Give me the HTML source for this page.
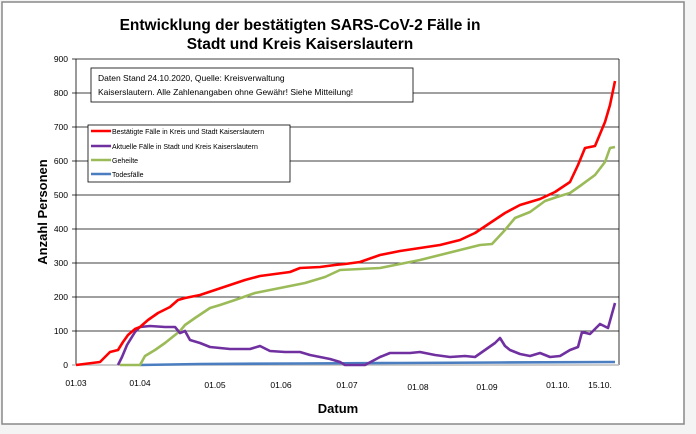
<!DOCTYPE html>
<html><head><meta charset="utf-8"><style>
body{margin:0;background:#f4f4f4;}
svg{display:block;font-family:"Liberation Sans",Arial,sans-serif;}
</style></head><body>
<svg width="696" height="434" viewBox="0 0 696 434">
<rect x="0" y="0" width="696" height="434" fill="#f4f4f4"/>
<rect x="2" y="2" width="682" height="422" fill="#fff" stroke="#888" stroke-width="1.5"/>
<text x="300" y="30" font-size="15.5" font-weight="bold" text-anchor="middle">Entwicklung der bestätigten SARS-CoV-2 Fälle in</text>
<text x="300" y="49" font-size="15.5" font-weight="bold" text-anchor="middle">Stadt und Kreis Kaiserslautern</text>
<g stroke="#000" stroke-width="0.8">
<line x1="72" y1="59" x2="619" y2="59"/><line x1="72" y1="93" x2="619" y2="93"/>
<line x1="72" y1="127" x2="619" y2="127"/><line x1="72" y1="161" x2="619" y2="161"/>
<line x1="72" y1="195" x2="619" y2="195"/><line x1="72" y1="229" x2="619" y2="229"/>
<line x1="72" y1="263" x2="619" y2="263"/><line x1="72" y1="297" x2="619" y2="297"/>
<line x1="72" y1="331" x2="619" y2="331"/>
<line x1="76" y1="59" x2="76" y2="365"/>
<line x1="619" y1="59" x2="619" y2="365"/>
</g>
<line x1="72" y1="365" x2="619" y2="365" stroke="#bbb" stroke-width="1.5"/>
<g font-size="8.5" text-anchor="end">
<text x="68" y="62">900</text><text x="68" y="96">800</text><text x="68" y="130">700</text>
<text x="68" y="164">600</text><text x="68" y="198">500</text><text x="68" y="232">400</text>
<text x="68" y="266">300</text><text x="68" y="300">200</text><text x="68" y="334">100</text>
<text x="68" y="368">0</text>
</g>
<g font-size="8.5" text-anchor="middle">
<text x="76" y="386">01.03</text><text x="140" y="386">01.04</text><text x="215" y="388">01.05</text>
<text x="281" y="388">01.06</text><text x="347" y="388">01.07</text><text x="418" y="390">01.08</text>
<text x="487" y="390">01.09</text><text x="558" y="388">01.10.</text><text x="600" y="388">15.10.</text>
</g>
<text x="338" y="413" font-size="13" font-weight="bold" text-anchor="middle">Datum</text>
<text transform="translate(47,212) rotate(-90)" font-size="13" font-weight="bold" text-anchor="middle">Anzahl Personen</text>
<g fill="none" stroke-width="2.6" stroke-linejoin="round">
<polyline stroke="#4a7ec0" points="140,365 200,364 300,363.5 400,363 500,362.5 615,362"/>
<polyline stroke="#9bbb59" points="120,365 140,365 145,356 155,350 165,343 175,335 180,331 185,325 195,318 210,308 220,305 235,300 255,293 270,290 285,287 305,283 325,277 340,270 360,269 380,268 400,264 420,260 440,255 460,250 480,245 492,244 505,230 515,218 530,212 545,201 560,196 570,193 580,186 595,175 605,162 610,148 615,147"/>
<polyline stroke="#7030a0" points="118,365 122,357 127,345 135,332 140,327 150,326 165,327 175,327 180,333 185,331 190,340 200,343 210,347 220,348 230,349 250,349 260,346 270,351 285,352 300,352 310,355 320,357 330,359 340,362 345,365 365,365 380,357 390,353 410,353 420,352 435,355 450,357 465,356 475,357 485,350 495,343 500,338 505,346 510,350 520,354 530,356 540,353 550,357 560,356 570,350 578,347 582,332 590,334 600,324 608,328 615,303"/>
<polyline stroke="#ff0000" points="76,365 100,362 105,357 110,352 118,350 123,342 128,335 135,329 140,327 148,320 158,313 170,307 178,300 185,298 200,295 215,290 230,285 245,280 260,276 275,274 290,272 300,268 320,267 335,265 345,264 360,262 380,255 400,251 420,248 440,245 460,240 475,233 490,223 505,213 520,205 540,199 555,192 570,182 578,165 585,148 595,146 605,122 610,105 615,81"/>
</g>
<rect x="91" y="68" width="322" height="34" fill="#fff" stroke="#000" stroke-width="0.8"/>
<text x="98" y="81" font-size="8.5">Daten Stand 24.10.2020, Quelle: Kreisverwaltung</text>
<text x="98" y="95" font-size="8.5">Kaiserslautern. Alle Zahlenangaben ohne Gewähr! Siehe Mitteilung!</text>
<rect x="88" y="125" width="202" height="57" fill="#fff" stroke="#000" stroke-width="0.8"/>
<g stroke-width="2.4">
<line x1="91" y1="131" x2="111" y2="131" stroke="#ff0000"/>
<line x1="91" y1="146" x2="111" y2="146" stroke="#7030a0"/>
<line x1="91" y1="160" x2="111" y2="160" stroke="#9bbb59"/>
<line x1="91" y1="174" x2="111" y2="174" stroke="#4a7ec0"/>
</g>
<g font-size="7">
<text x="112" y="134">Bestätigte Fälle in Kreis und Stadt Kaiserslautern</text>
<text x="112" y="149">Aktuelle Fälle in Stadt und Kreis Kaiserslautern</text>
<text x="112" y="163">Geheilte</text>
<text x="112" y="177">Todesfälle</text>
</g>
</svg>
</body></html>
